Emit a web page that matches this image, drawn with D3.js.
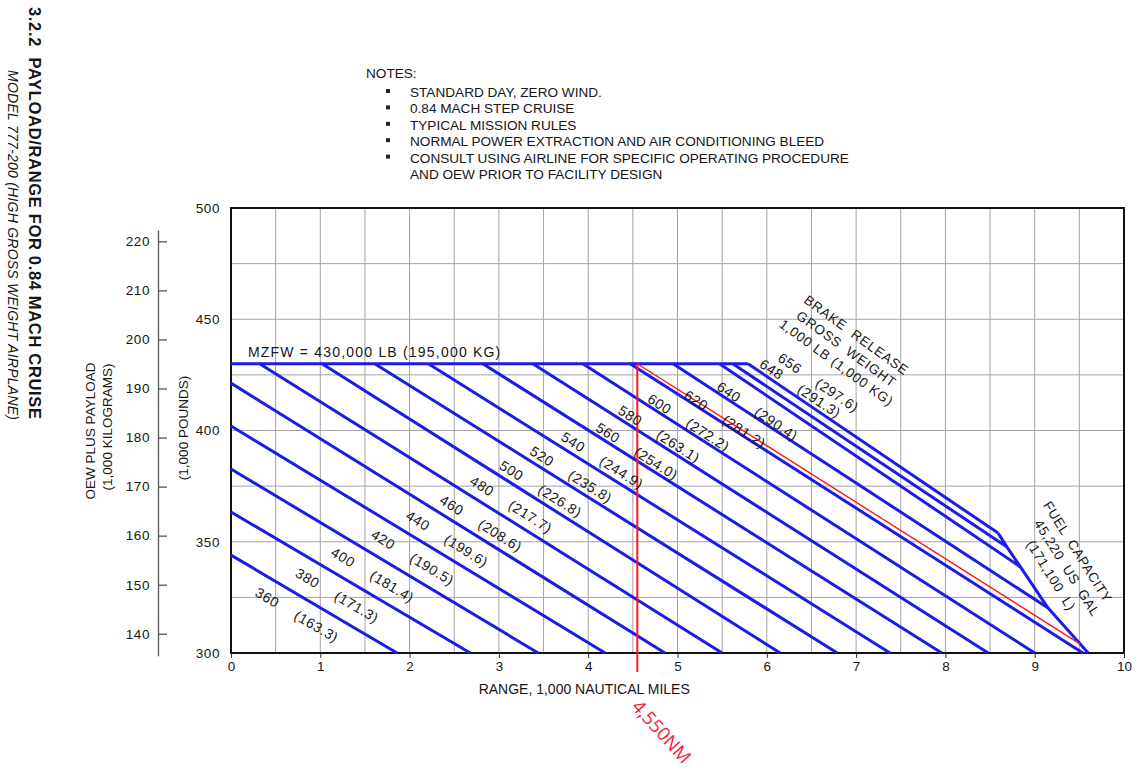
<!DOCTYPE html>
<html>
<head>
<meta charset="utf-8">
<script src="https://cdn.jsdelivr.net/npm/d3@7"></script>
<style>
  html, body { margin: 0; padding: 0; background: #fff; }
  svg text { font-family: "Liberation Sans", Arial, sans-serif; fill: #161616; white-space: pre; }
</style>
</head>
<body>
<svg id="chart" width="1137" height="771"></svg>
<script>
// Brake release gross weight lines (1,000 LB) and their metric values (1,000 KG)
const grossWeightLb = [360, 380, 400, 420, 440, 460, 480, 500, 520, 540, 560, 580, 600, 620, 640, 648, 656];
const grossWeightKg = ["163.3", "171.3", "181.4", "190.5", "199.6", "208.6", "217.7", "226.8", "235.8",
                       "244.9", "254.0", "263.1", "272.2", "281.2", "290.4", "291.3", "297.6"];

// Where each line begins: on the MZFW cap or on the zero-range axis (range 1,000 NM, OEW + payload 1,000 LB)
const startRange = [0, 0, 0, 0, 0, 0.32, 1.02, 1.61, 2.21, 2.82, 3.38, 3.94, 4.47, 4.95, 5.47, 5.62, 5.79];
const startLoad  = [344.0, 363.4, 382.7, 402.0, 421.3, 430, 430, 430, 430, 430, 430, 430, 430, 430, 430, 430, 430];

// Where each line ends: the 300,000 LB floor or the fuel capacity limit
const endRange = [1.86, 2.68, 3.44, 4.19, 4.86, 5.50, 6.15, 6.79, 7.38, 7.96, 8.48, 9.00, 9.54, 9.15, 8.84, 8.69, 8.59];
const endLoad  = [300, 300, 300, 300, 300, 300, 300, 300, 300, 300, 300, 300, 300, 320.2, 338.7, 347.6, 353.9];

// Fuel capacity limit, 45,220 US GAL
const fuelRange = [8.59, 8.69, 8.84, 9.15, 9.60];
const fuelLoad  = [353.9, 347.6, 338.7, 320.2, 300];

// Maximum zero fuel weight cap
const mzfwLoad = 430;
const mzfwEndRange = 5.79;

// Marked mission: 4,550 NM
const markedRange = 4.55;
const markedEndRange = 9.51;
const markedEndLoad = 304.0;

// Axis ticks
const rangeTicks = [0, 1, 2, 3, 4, 5, 6, 7, 8, 9, 10];
const lbTicks = [300, 350, 400, 450, 500];
const kgTicks = [140, 150, 160, 170, 180, 190, 200, 210, 220];
const gridRange = [0.5, 1, 1.5, 2, 2.5, 3, 3.5, 4, 4.5, 5, 5.5, 6, 6.5, 7, 7.5, 8, 8.5, 9, 9.5];
const gridLoad = [325, 350, 375, 400, 425, 450, 475];

const notes = [
  "STANDARD DAY, ZERO WIND.",
  "0.84 MACH STEP CRUISE",
  "TYPICAL MISSION RULES",
  "NORMAL POWER EXTRACTION AND AIR CONDITIONING BLEED",
  "CONSULT USING AIRLINE FOR SPECIFIC OPERATING PROCEDURE",
  "AND OEW PRIOR TO FACILITY DESIGN"
];

const LB_PER_KG = 2.20462;

// ---------- layout ----------
const svg = d3.select("#chart");
const plot = { left: 231, right: 1124, top: 208, bottom: 653 };
const x = d3.scaleLinear().domain([0, 10]).range([plot.left, plot.right]);
const y = d3.scaleLinear().domain([300, 500]).range([plot.bottom, plot.top]);
const kgDomain = [135.5, 222.3];
const yKg = d3.scaleLinear().domain(kgDomain).range(kgDomain.map(k => y(k * LB_PER_KG)));

const blue = "#1c1ce8";
const red = "#ff1a1a";
const grid = "#a4a4a4";

// Title block, rotated along the left edge
svg.append("text")
  .attr("transform", "translate(29,419) rotate(90)")
  .attr("text-anchor", "end")
  .attr("font-size", 16.5).attr("font-weight", "bold")
  .attr("textLength", 412).attr("lengthAdjust", "spacing")
  .text("3.2.2  PAYLOAD/RANGE FOR 0.84 MACH CRUISE");
svg.append("text")
  .attr("transform", "translate(8,420) rotate(90)")
  .attr("text-anchor", "end")
  .attr("font-size", 14).attr("font-style", "italic")
  .attr("textLength", 350).attr("lengthAdjust", "spacing")
  .text("MODEL 777-200 (HIGH GROSS WEIGHT AIRPLANE)");

// Notes
const notesG = svg.append("g");
notesG.append("text").attr("x", 366).attr("y", 78).attr("font-size", 13.6).text("NOTES:");
notes.forEach((n, i) => {
  const rowY = 92 + i * 16.4;
  if (i < 5) {
    notesG.append("rect").attr("x", 386).attr("y", rowY - 3).attr("width", 4).attr("height", 4).attr("fill", "#222");
  }
  notesG.append("text").attr("x", 410).attr("y", rowY + 5).attr("font-size", 13.6).text(n);
});

// Grid
const gridG = svg.append("g").attr("stroke", grid).attr("stroke-width", 1);
gridG.selectAll("line.v").data(gridRange).join("line")
  .attr("x1", d => x(d)).attr("x2", d => x(d)).attr("y1", plot.top).attr("y2", plot.bottom);
gridG.selectAll("line.h").data(gridLoad).join("line")
  .attr("x1", plot.left).attr("x2", plot.right).attr("y1", d => y(d)).attr("y2", d => y(d));

// Frame
svg.append("rect")
  .attr("x", plot.left).attr("y", plot.top)
  .attr("width", plot.right - plot.left).attr("height", plot.bottom - plot.top)
  .attr("fill", "none").attr("stroke", "#111").attr("stroke-width", 2);

// Bottom axis
const xAxis = svg.append("g").attr("transform", `translate(0,${plot.bottom})`)
  .call(d3.axisBottom(x).tickValues(rangeTicks).tickFormat(d3.format("d")).tickSize(5).tickPadding(3).tickSizeOuter(0));
xAxis.select(".domain").remove();
xAxis.selectAll("line").attr("stroke", "#333");
xAxis.selectAll("text").attr("font-size", 13.5).attr("font-family", null);

// Left pound axis
const lbAxis = svg.append("g").attr("transform", `translate(${plot.left},0)`)
  .call(d3.axisLeft(y).tickValues(lbTicks).tickSize(0).tickPadding(11));
lbAxis.select(".domain").remove();
lbAxis.selectAll("text").attr("font-size", 13.5).attr("font-family", null).attr("letter-spacing", 0.6);

// Kilogram axis
const kgAxis = svg.append("g").attr("transform", "translate(158,0)")
  .call(d3.axisLeft(yKg).tickValues(kgTicks).tickSize(-9).tickPadding(8).tickSizeOuter(0));
kgAxis.select(".domain").attr("stroke", "#555").attr("stroke-width", 1.3);
kgAxis.selectAll("line").attr("stroke", "#555").attr("stroke-width", 1.3);
kgAxis.selectAll("text").attr("font-size", 13.5).attr("font-family", null).attr("letter-spacing", 0.6);

// Axis titles
svg.append("text").attr("transform", "translate(95,431) rotate(-90)")
  .attr("text-anchor", "middle").attr("font-size", 13.5).text("OEW PLUS PAYLOAD");
svg.append("text").attr("transform", "translate(112,427) rotate(-90)")
  .attr("text-anchor", "middle").attr("font-size", 13.5).text("(1,000 KILOGRAMS)");
svg.append("text").attr("transform", "translate(188,428) rotate(-90)")
  .attr("text-anchor", "middle").attr("font-size", 13.5).text("(1,000 POUNDS)");
svg.append("text").attr("x", (x(2.74) + x(5.17)) / 2).attr("y", 694)
  .attr("text-anchor", "middle").attr("font-size", 14).text("RANGE, 1,000 NAUTICAL MILES");

// Weight lines
const line = d3.line().x(d => x(d[0])).y(d => y(d[1]));
const weightLines = grossWeightLb.map((w, i) => [[startRange[i], startLoad[i]], [endRange[i], endLoad[i]]]);
const linesG = svg.append("g").attr("fill", "none").attr("stroke", blue).attr("stroke-width", 3).attr("stroke-linejoin", "round");
linesG.selectAll("path.w").data(weightLines).join("path").attr("d", line);
// MZFW cap
linesG.append("path").attr("d", line([[0, mzfwLoad], [mzfwEndRange, mzfwLoad]]));
// Fuel capacity limit
linesG.append("path").attr("d", line(fuelRange.map((r, i) => [r, fuelLoad[i]])));

// Marked mission in red
svg.append("line")
  .attr("x1", x(markedRange)).attr("x2", x(markedRange))
  .attr("y1", y(mzfwLoad)).attr("y2", y(300) + 19)
  .attr("stroke", red).attr("stroke-width", 2);
svg.append("line")
  .attr("x1", x(markedRange)).attr("y1", y(mzfwLoad))
  .attr("x2", x(markedEndRange)).attr("y2", y(markedEndLoad))
  .attr("stroke", red).attr("stroke-width", 1.4);
svg.append("text")
  .attr("transform", `translate(${x(markedRange) + 25},${y(300) + 78}) rotate(48)`)
  .attr("text-anchor", "middle").attr("dominant-baseline", "central")
  .attr("font-size", 18.5)
  .style("fill", "#f5213f").style("font-family", "'Open Sans', sans-serif")
  .text("4,550NM");

// MZFW label
svg.append("text").attr("x", x(0.19)).attr("y", y(mzfwLoad) - 7)
  .attr("font-size", 14).attr("letter-spacing", 1.2)
  .text("MZFW = 430,000 LB (195,000 KG)");

// Weight labels, set along each line
const labelAt = [0.51, 0.96, 1.36, 1.81, 2.20, 2.58, 2.92, 3.25, 3.59, 3.94, 4.33, 4.58, 4.91, 5.32, 5.69, 5.95, 6.11];
const labelOffset = w => (w === 648 ? -17 : w === 656 ? -24 : 18);
const labelsG = svg.append("g");
grossWeightLb.forEach((w, i) => {
  const x0 = x(startRange[i]), y0 = y(startLoad[i]);
  const x1 = x(endRange[i]), y1 = y(endLoad[i]);
  const slope = (y1 - y0) / (x1 - x0);
  const ang = Math.atan(slope) * 180 / Math.PI;
  const px = x(labelAt[i]);
  const py = y0 + (px - x0) * slope;
  const off = labelOffset(w);
  const g = labelsG.append("g").attr("transform", `translate(${px},${py}) rotate(${ang})`);
  g.append("text").attr("x", 0).attr("y", off)
    .attr("text-anchor", "middle").attr("dominant-baseline", "central")
    .attr("font-size", 14).attr("letter-spacing", 0.6).text(String(w));
  g.append("text").attr("x", 57).attr("y", off)
    .attr("text-anchor", "middle").attr("dominant-baseline", "central")
    .attr("font-size", 14).attr("letter-spacing", 0.6).text(`(${grossWeightKg[i]})`);
});

// Brake release legend
const brG = svg.append("g").attr("transform", `translate(${x(6.89)},${y(436.6)}) rotate(36)`);
["BRAKE  RELEASE", "GROSS  WEIGHT", "1,000 LB (1,000 KG)"].forEach((t, i) => {
  brG.append("text").attr("x", 0).attr("y", (i - 1) * 17)
    .attr("text-anchor", "middle").attr("dominant-baseline", "central")
    .attr("font-size", 13.5).attr("letter-spacing", 0.7).text(t);
});

// Fuel capacity legend
const fcG = svg.append("g").attr("transform", `translate(${x(9.36)},${y(338.2)}) rotate(58)`);
[["FUEL  CAPACITY", -8], ["45,220  US  GAL", 0], ["(171,100  L)", -2]].forEach(([t, dx], i) => {
  fcG.append("text").attr("x", dx).attr("y", (i - 1) * 17.5)
    .attr("text-anchor", "middle").attr("dominant-baseline", "central")
    .attr("font-size", 13.5).attr("letter-spacing", 0.6).text(t);
});
</script>
</body>
</html>
